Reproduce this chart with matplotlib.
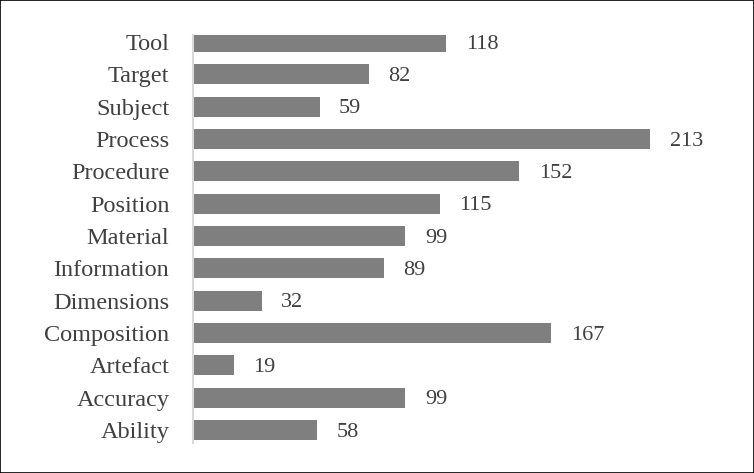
import matplotlib
matplotlib.use("Agg")
import matplotlib.pyplot as plt
from matplotlib.patches import Rectangle

# Categories listed bottom to top
categories = ["Ability", "Accuracy", "Artefact", "Composition", "Dimensions",
              "Information", "Material", "Position", "Procedure", "Process",
              "Subject", "Target", "Tool"]
counts = [58, 99, 19, 167, 32, 89, 99, 115, 152, 213, 59, 82, 118]

plt.rcParams['font.family'] = ['Liberation Serif', 'DejaVu Serif']

W, H = 754, 473
fig = plt.figure(figsize=(W / 100, H / 100), dpi=100)

# axes placed in pixel terms: left edge at the axis line
left, right, top, bottom = 193, 740, 35, 443
ax = fig.add_axes([left / W, 1 - bottom / H, (right - left) / W, (bottom - top) / H])

ypos = range(len(categories))
bars = ax.barh(ypos, counts, height=0.62, color='#7f7f7f')

ax.set_xlim(0, (right - left) / 2.146)
ax.set_ylim(-0.4, 12.22)

ax.set_yticks(list(ypos))
ax.set_yticklabels(categories, fontsize=17.5, color='#404040')
ax.tick_params(axis='y', length=0, pad=17)
ax.set_xticks([])

for spine in ['top', 'right', 'bottom']:
    ax.spines[spine].set_visible(False)
ax.spines['left'].set_color('#d9d9d9')
ax.spines['left'].set_linewidth(1.5)

# value labels next to each bar
for b, v in zip(bars, counts):
    ax.annotate(str(v), xy=(b.get_width(), b.get_y() + b.get_height() / 2),
                xytext=(14, -1.5), textcoords='offset points',
                ha='left', va='center', fontsize=16, color='#404040')

# thin black border around the whole image
fig.patches.append(Rectangle((0, 0), 1, 1, transform=fig.transFigure,
                             fill=False, edgecolor='black', linewidth=1.2))

fig.savefig("out.png", dpi=100)
